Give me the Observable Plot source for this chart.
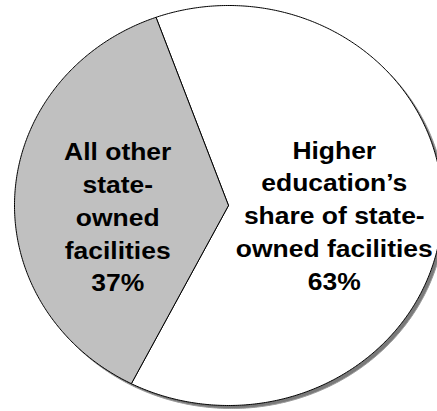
<!DOCTYPE html>
<html>
<head>
<meta charset="utf-8">
<script src="https://cdn.jsdelivr.net/npm/d3@7"></script>
<script src="https://cdn.jsdelivr.net/npm/@observablehq/plot@0.6"></script>
<style>
  html, body { margin: 0; padding: 0; background: #fff; }
  #chart { width: 437px; height: 411px; overflow: hidden; }
</style>
</head>
<body>
<div id="chart"></div>
<script>
// Data
const categories = ["Higher education’s share of state-owned facilities", "All other state-owned facilities"];
const values = [63, 37];
const labels = ["Higher\neducation’s\nshare of state-\nowned facilities\n63%", "All other\nstate-\nowned\nfacilities\n37%"];
const sliceColors = ["#ffffff", "#c0c0c0"];

const startDeg = -19.8;
const pie = d3.pie().sort(null).startAngle(startDeg * Math.PI / 180).endAngle((startDeg + 360) * Math.PI / 180);
const arcs = pie(values);

function arcPoints(a0, a1, withCenter) {
  const pts = [];
  if (withCenter) pts.push({x: 0, y: 0});
  const n = Math.max(2, Math.ceil((a1 - a0) / (Math.PI / 360)));
  for (let i = 0; i <= n; i++) {
    const a = a0 + (a1 - a0) * i / n;
    pts.push({x: Math.sin(a), y: Math.cos(a)});
  }
  if (withCenter) pts.push({x: 0, y: 0});
  return pts;
}

const full = arcPoints(0, 2 * Math.PI, false);
const slices = arcs.map((d, i) => ({pts: arcPoints(d.startAngle, d.endAngle, true), fill: sliceColors[i]}));
const labelPos = arcs.map((d, i) => {
  const m = (d.startAngle + d.endAngle) / 2;
  return {x: 0.5 * Math.sin(m), y: 0.5 * Math.cos(m), text: labels[i], name: categories[i]};
});

const textStyle = {
  x: "x", y: "y", text: "text",
  fontSize: 24.5, fontWeight: "bold", lineHeight: 1.34,
  fontFamily: "'Liberation Sans', Arial, sans-serif",
  fill: "#000", textAnchor: "middle"
};

const chart = Plot.plot({
  width: 437,
  height: 411,
  margin: 0,
  x: {domain: [-1, 1], range: [14, 442], axis: null},
  y: {domain: [-1, 1], range: [405, 5], axis: null},
  marks: [
    Plot.line(full, {x: "x", y: "y", fill: "#7a7a7a", stroke: "#9a9a9a", strokeWidth: 1, dx: 3, dy: 3, curve: "linear"}),
    ...slices.map(s => Plot.line(s.pts, {x: "x", y: "y", fill: s.fill, stroke: "#000", strokeWidth: 1, strokeLinejoin: "miter", curve: "linear"})),
    Plot.text(labelPos.slice(0, 1), {...textStyle, dy: 2, dx: -1}),
    Plot.text(labelPos.slice(1, 2), {...textStyle, dy: 16, dx: -4})
  ]
});
// slight horizontal stretch of the labels, as in the reference rendering
chart.querySelectorAll("text").forEach(t => {
  const tr = t.getAttribute("transform") || "";
  t.setAttribute("transform", tr + " scale(1.08,1)");
});
document.getElementById("chart").appendChild(chart);
</script>
</body>
</html>
